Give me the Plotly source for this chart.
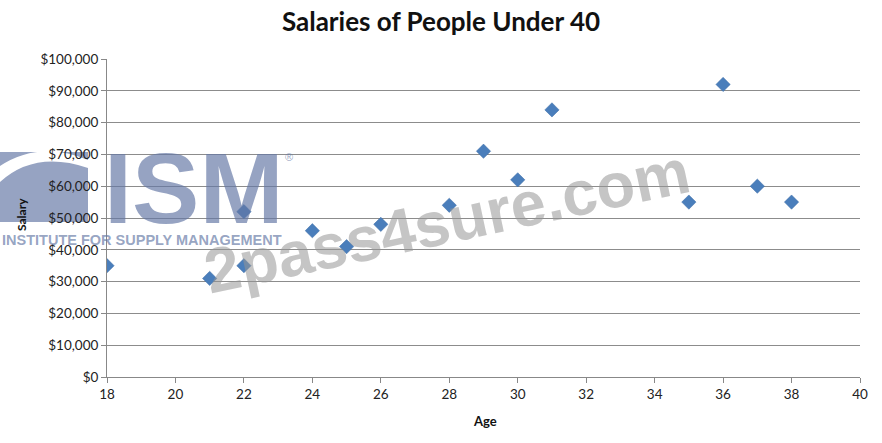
import plotly.graph_objects as go

# ages and salaries
ages = [18, 21, 22, 22, 24, 25, 26, 28, 29, 30, 31, 35, 36, 37, 38]
salaries = [35000, 31000, 35000, 52000, 46000, 41000, 48000, 54000,
            71000, 62000, 84000, 55000, 92000, 60000, 55000]

x_ticks = list(range(18, 41, 2))
y_ticks = list(range(0, 100001, 10000))

FONT = "Lato, 'Open Sans', sans-serif"
W, H = 882, 443
L, R, T, B = 107, 22, 59, 66


# pixel -> paper helpers for the watermark pieces
def px(x):
    return (x - L) / (W - L - R)


def py(y):
    return (H - B - y) / (H - T - B)


fig = go.Figure()
fig.add_trace(go.Scatter(
    x=ages,
    y=salaries,
    mode="markers",
    marker=dict(symbol="diamond", size=11, color="#4a7ebb",
                line=dict(width=0.5, color="#3a6aa5")),
    showlegend=False,
))

# watermark bits seen on the picture
slate = "rgba(100,120,165,0.68)"
fig.add_shape(type="rect", xref="paper", yref="paper", layer="below",
              x0=px(0), x1=px(88), y0=py(222), y1=py(152),
              fillcolor=slate, line=dict(width=0))
fig.add_shape(type="path", xref="paper", yref="paper", layer="below",
              path=(f"M {px(0)} {py(166)} Q {px(40)} {py(140)} {px(88)} {py(160)} "
                    f"L {px(88)} {py(168)} Q {px(35)} {py(150)} {px(0)} {py(182)} Z"),
              fillcolor="white", line=dict(width=0))
fig.add_annotation(
    text="<b>ISM</b>", xref="paper", yref="paper",
    x=px(102), y=py(188), xanchor="left", yanchor="middle", showarrow=False,
    font=dict(family="'Liberation Sans', Arial, sans-serif", size=101, color=slate),
)
fig.add_annotation(
    text="®", xref="paper", yref="paper",
    x=px(289), y=py(157), xanchor="center", yanchor="middle", showarrow=False,
    font=dict(family="'Liberation Sans', Arial, sans-serif", size=11, color=slate),
)
fig.add_annotation(
    text="<b>INSTITUTE FOR SUPPLY MANAGEMENT</b>", xref="paper", yref="paper",
    x=px(0), y=py(240), xanchor="left", yanchor="middle", showarrow=False,
    font=dict(family="'Liberation Sans', Arial, sans-serif", size=14.5, color=slate),
)
fig.add_annotation(
    text="<b>2pass4sure.com</b>", xref="paper", yref="paper",
    x=px(447), y=py(221), xanchor="center", yanchor="middle",
    showarrow=False, textangle=-12,
    font=dict(family="'Liberation Sans', Arial, sans-serif", size=63,
              color="rgba(150,150,150,0.55)"),
)

# axis titles
fig.add_annotation(text="<b>Salary</b>", xref="paper", yref="paper",
                   x=px(21), y=py(215), xanchor="center", yanchor="middle",
                   showarrow=False, textangle=-90,
                   font=dict(family=FONT, size=12, color="#111"))
fig.add_annotation(text="<b>Age</b>", xref="paper", yref="paper",
                   x=px(485), y=py(421), xanchor="center", yanchor="middle",
                   showarrow=False,
                   font=dict(family=FONT, size=13, color="#111"))

fig.update_layout(
    width=W,
    height=H,
    paper_bgcolor="white",
    plot_bgcolor="white",
    margin=dict(l=L, r=R, t=T, b=B, autoexpand=False),
    title=dict(text="<b>Salaries of People Under 40</b>", x=0.5, xanchor="center",
               xref="container", y=1 - 22 / H, yanchor="middle",
               font=dict(family=FONT, size=26, color="#111")),
    font=dict(family=FONT, size=13.5, color="#222"),
    xaxis=dict(
        range=[18, 40], tickvals=x_ticks, showgrid=False, zeroline=False,
        showline=True, linecolor="#888", linewidth=1, automargin=False,
        ticks="outside", ticklen=5, tickcolor="#888",
    ),
    yaxis=dict(
        range=[0, 100000], tickvals=y_ticks, tickformat="$,.0f",
        showgrid=True, gridcolor="#8c8c8c", gridwidth=1, zeroline=False,
        showline=True, linecolor="#888", linewidth=1, automargin=False,
        ticks="outside", ticklen=5, tickcolor="#888",
    ),
)

# the page's default body margin would shift the chart, drop it
fig.write_html("out.html", config={"displayModeBar": False},
               post_script="document.body.style.margin = '0';")
